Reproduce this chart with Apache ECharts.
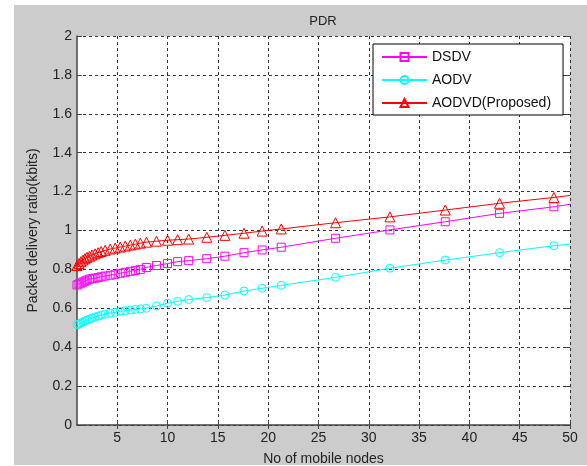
<!DOCTYPE html>
<html>
<head>
<meta charset="utf-8">
<script src="https://cdn.jsdelivr.net/npm/echarts@6/dist/echarts.min.js"></script>
<style>html,body{margin:0;padding:0;background:#fff}#c{width:587px;height:466px}</style>
</head>
<body>
<div id="c"></div>
<script>
// ---- data ----
const xNodes = [1.0, 1.2, 1.4, 1.6, 1.8, 2.0, 2.25, 2.5, 2.8, 3.1, 3.4, 3.8, 4.3, 4.8, 5.3, 5.8, 6.3, 6.8, 7.3, 7.9, 8.9, 10.0, 11.0, 12.1, 13.9, 15.7, 17.6, 19.4, 21.3, 26.7, 32.1, 37.6, 43.0, 48.4, 50];
const dsdv  = [0.72, 0.725, 0.73, 0.735, 0.74, 0.745, 0.75, 0.752, 0.755, 0.758, 0.762, 0.766, 0.77, 0.775, 0.78, 0.785, 0.79, 0.795, 0.80, 0.81, 0.82, 0.83, 0.84, 0.845, 0.855, 0.868, 0.886, 0.90, 0.914, 0.96, 1.003, 1.045, 1.088, 1.122, 1.135];
const aodv  = [0.515, 0.52, 0.525, 0.53, 0.535, 0.54, 0.545, 0.55, 0.555, 0.56, 0.565, 0.57, 0.575, 0.58, 0.585, 0.588, 0.591, 0.594, 0.597, 0.60, 0.612, 0.626, 0.636, 0.645, 0.655, 0.668, 0.689, 0.703, 0.718, 0.759, 0.806, 0.848, 0.886, 0.922, 0.93];
const aodvd = [0.82, 0.83, 0.84, 0.848, 0.855, 0.862, 0.868, 0.874, 0.88, 0.886, 0.892, 0.898, 0.905, 0.91, 0.915, 0.92, 0.925, 0.93, 0.935, 0.94, 0.945, 0.95, 0.953, 0.956, 0.965, 0.975, 0.986, 0.997, 1.008, 1.04, 1.07, 1.105, 1.14, 1.17, 1.18];
const seriesNames = ['DSDV', 'AODV', 'AODVD(Proposed)'];
const xTicks = [5, 10, 15, 20, 25, 30, 35, 40, 45, 50];
const yTicks = [0, 0.2, 0.4, 0.6, 0.8, 1, 1.2, 1.4, 1.6, 1.8, 2];
const titleText = 'PDR';
const xTitle = 'No of mobile nodes';
const yTitle = 'Packet delivery ratio(kbits)';

function pts(ys) {
  return xNodes.map((x, i) => i === xNodes.length - 1
    ? { value: [x, ys[i]], symbol: 'none' }
    : [x, ys[i]]);
}

const font = 'Arial, "Liberation Sans", sans-serif';
const gridDash = { color: '#333', width: 1, type: [3, 3] };

const chart = echarts.init(document.getElementById('c'), null, { renderer: 'canvas' });

function mk(name, ys, color, symbol, size) {
  return {
    name, type: 'line', data: pts(ys), symbol, symbolSize: size,
    showAllSymbol: true, animation: false, z: 3,
    lineStyle: { color, width: 1 },
    itemStyle: { color: 'rgba(0,0,0,0)', borderColor: color, borderWidth: 1 },
    emphasis: { disabled: true }
  };
}

chart.setOption({
  animation: false,
  backgroundColor: '#cccccc',
  textStyle: { fontFamily: font },
  graphic: [
    { type: 'rect', shape: { x: 0, y: 0, width: 14, height: 466 }, style: { fill: '#fff' }, silent: true },
    { type: 'rect', shape: { x: 0, y: 0, width: 587, height: 5 }, style: { fill: '#fff' }, silent: true },
    { type: 'rect', shape: { x: 0, y: 465, width: 587, height: 1 }, style: { fill: '#fff' }, silent: true },
    { type: 'text', x: 323, y: 15, style: { text: titleText, font: '13px ' + font, fill: '#222', align: 'center', verticalAlign: 'top' }, silent: true }
  ],
  grid: { left: 77, right: 17, top: 36, bottom: 41, show: true, backgroundColor: '#fff', borderWidth: 0, containLabel: false, outerBoundsMode: 'none' },
  legend: {
    orient: 'vertical', left: 373, top: 44,
    data: seriesNames,
    backgroundColor: '#fff', borderColor: '#000', borderWidth: 1, borderRadius: 0,
    padding: [6, 12, 5, 8],
    itemWidth: 45, itemHeight: 10, itemGap: 9,
    textStyle: { fontSize: 14, color: '#111', fontFamily: font },
    selectedMode: false
  },
  xAxis: [{
    type: 'value', min: 1, max: 50,
    name: xTitle, nameLocation: 'middle', nameGap: 27,
    nameTextStyle: { fontSize: 14, color: '#222' },
    axisLine: { show: true, onZero: false, lineStyle: { color: '#444', width: 1.5 } },
    axisTick: { show: true, inside: true, length: 5, customValues: xTicks, lineStyle: { color: '#444' } },
    axisLabel: { customValues: xTicks, fontSize: 14, color: '#222', margin: 6 },
    splitLine: { show: true, lineStyle: gridDash }
  }, {
    type: 'value', min: 1, max: 50, position: 'top',
    axisLine: { show: false },
    axisTick: { show: true, inside: true, length: 4, customValues: xTicks, lineStyle: { color: '#444' } },
    axisLabel: { show: false, customValues: xTicks },
    splitLine: { show: false }
  }],
  yAxis: [{
    type: 'value', min: 0, max: 2, interval: 0.2,
    name: yTitle, nameLocation: 'middle', nameGap: 37,
    nameTextStyle: { fontSize: 14, color: '#222' },
    axisLine: { show: true, onZero: false, lineStyle: { color: '#444', width: 1.5 } },
    axisTick: { show: true, inside: true, length: 5, lineStyle: { color: '#444' } },
    axisLabel: { fontSize: 14, color: '#222', margin: 5 },
    splitLine: { show: true, lineStyle: gridDash }
  }, {
    type: 'value', min: 0, max: 2, interval: 0.2, position: 'right',
    axisLine: { show: false },
    axisTick: { show: true, inside: true, length: 4, lineStyle: { color: '#444' } },
    axisLabel: { show: false },
    splitLine: { show: false }
  }],
  series: [
    mk(seriesNames[0], dsdv, '#ff00ff', 'rect', 8),
    mk(seriesNames[1], aodv, '#00ffff', 'circle', 8),
    mk(seriesNames[2], aodvd, '#ff0000', 'triangle', 10)
  ]
});
</script>
</body>
</html>
